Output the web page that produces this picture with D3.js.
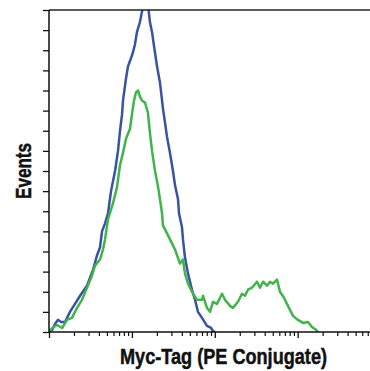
<!DOCTYPE html>
<html>
<head>
<meta charset="utf-8">
<script src="https://cdn.jsdelivr.net/npm/d3@7"></script>
<style>
  html, body { margin: 0; padding: 0; background: #fff; }
  svg { display: block; }
  .lbl { font-family: "Liberation Sans Narrow", "Arial Narrow", "Liberation Sans", Arial, sans-serif; font-weight: bold; font-size: 22px; fill: #111; stroke: #111; stroke-width: 0.5px; }
</style>
</head>
<body>
<div id="chart"></div>
<script>
// fluorescence (log axis) and event counts
const blueX = [1, 1.09, 1.18, 1.28, 1.40, 1.56, 1.79, 2.06, 2.37, 2.87, 3.40, 3.79, 4.12, 4.36, 4.74, 5.15, 5.60, 6.26, 6.80, 7.19, 7.60, 7.81, 8.49, 8.97, 9.75, 10.3, 10.9, 11.5, 12.5, 13.2, 14.0, 14.8,
  15.6, 16.5, 17.5, 18.5, 20.1, 21.8, 23.7, 25.1, 26.5, 28.8, 31.3, 33.1, 36.0, 37.0, 40.2, 41.3, 43.7, 47.5, 53.1, 57.7, 62.7, 70.1, 80.5, 90.0, 95.1, 100.6];
const blueY = [0, 1, 4, 6, 5, 5, 10, 14, 18, 23, 31, 38, 42, 50, 54, 59, 70, 80, 90, 100, 108, 115, 126, 132, 136, 139, 143, 149, 154, 159, 163, 166,
  163, 154, 149, 142, 132, 124, 111, 104, 97, 89, 80, 73, 66, 59, 52, 46, 37, 29, 21, 16, 10, 7, 3, 2, 0.5, 0];

const greenX = [1, 1.09, 1.25, 1.44, 1.65, 1.89, 2.18, 2.50, 2.87, 3.30, 3.59, 4.12, 4.48, 4.74, 5.15, 5.92, 6.61, 7.19, 7.81, 8.49, 9.49, 10.0, 10.6, 11.2, 11.9, 12.5, 13.2, 14.4, 15.6, 16.5, 17.5, 19.0, 20.7, 21.8, 23.1, 23.7, 25.8, 28.8,
  33.1, 38.0, 41.3, 43.7, 47.5, 54.6, 61.0, 70.1, 72.1, 80.5, 87.5, 95.1, 106.3, 122.2, 132.7, 152.5, 165.8, 190.5, 212.9, 231.3, 251.5, 281.0, 322.8, 351.0, 381.5, 426.3, 463.4, 503.5, 562.7,
  611.7, 683.5, 743.0, 807.5, 877.6, 1008, 1159, 1331, 1488, 1617, 1758];
const greenY = [0, 2, 3.5, 2, 6, 7, 12, 16, 22, 28, 33, 36, 41, 46, 56, 64, 72, 83, 89, 96, 101, 108, 115, 119, 120, 117, 115, 114, 109, 99, 90, 80, 72, 66, 59, 53, 50, 46,
  41, 34, 36, 29, 24, 19, 16, 16, 18, 12, 10, 15, 14, 19, 16, 13, 12, 15, 19, 18, 21, 22, 25, 22, 25, 23, 25, 24, 26,
  20, 17, 14, 11, 8, 6, 4.5, 5, 2.5, 1.5, 0];

const yTicks = d3.range(0, 161, 10);
const majorTicks = [1, 10, 100, 1000];

const width = 370, height = 371;
const mLeft = 49, mRight = 370, mTop = 10, mBottom = 332;

const svg = d3.select("#chart").append("svg")
  .attr("width", width)
  .attr("height", height);

const x = d3.scaleLog().domain([1, Math.pow(10, (mRight - mLeft) / 82.9)]).range([mLeft, mRight]);
const y = d3.scaleLinear().domain([0, 160]).range([mBottom, mTop]);

// minor ticks 2..9 in every decade that fits
const minorTicks = [];
majorTicks.forEach(m => { for (let k = 2; k <= 9; k++) if (m * k <= x.domain()[1]) minorTicks.push(m * k); });

svg.append("clipPath").attr("id", "plot")
  .append("rect").attr("x", mLeft).attr("y", mTop).attr("width", mRight - mLeft).attr("height", mBottom - mTop);

const line = d3.line()
  .x(d => x(d[0]))
  .y(d => y(d[1]));

const blue = blueX.map((v, i) => [v, blueY[i]]);
const green = greenX.map((v, i) => [v, greenY[i]]);

const g = svg.append("g").attr("clip-path", "url(#plot)");
g.append("path").datum(blue)
  .attr("d", line).attr("fill", "none")
  .attr("stroke", "#3953a4").attr("stroke-width", 2.5).attr("stroke-linejoin", "round");
g.append("path").datum(green)
  .attr("d", line).attr("fill", "none")
  .attr("stroke", "#3fb549").attr("stroke-width", 2.5).attr("stroke-linejoin", "round");

// top frame
svg.append("line")
  .attr("x1", mLeft).attr("x2", mRight).attr("y1", mTop).attr("y2", mTop)
  .attr("stroke", "#222").attr("stroke-width", 1.5);

// y axis
const yAxis = d3.axisLeft(y).tickValues(yTicks).tickSize(6).tickFormat("");
svg.append("g").attr("transform", `translate(${mLeft},0)`).call(yAxis)
  .call(s => s.select(".domain").attr("d", `M0,${mTop}V${mBottom}`).attr("stroke", "#111").attr("stroke-width", 1.5))
  .call(s => s.selectAll(".tick line").attr("stroke", "#111").attr("stroke-width", 1.3));

// x axis: minor + major ticks
svg.append("g").attr("transform", `translate(0,${mBottom})`)
  .call(d3.axisBottom(x).tickValues(minorTicks).tickSize(4).tickFormat(""))
  .call(s => s.select(".domain").remove())
  .call(s => s.selectAll(".tick line").attr("stroke", "#111").attr("stroke-width", 1.2));
svg.append("g").attr("transform", `translate(0,${mBottom})`)
  .call(d3.axisBottom(x).tickValues(majorTicks).tickSize(6).tickFormat(""))
  .call(s => s.select(".domain").attr("d", `M${mLeft},0H${mRight}`).attr("stroke", "#111").attr("stroke-width", 1.5))
  .call(s => s.selectAll(".tick line").attr("stroke", "#111").attr("stroke-width", 1.3));

svg.append("text").attr("class", "lbl")
  .attr("x", 223.5).attr("y", 364)
  .attr("text-anchor", "middle")
  .attr("textLength", 207).attr("lengthAdjust", "spacingAndGlyphs")
  .text("Myc-Tag (PE Conjugate)");

svg.append("text").attr("class", "lbl")
  .attr("transform", "translate(31,171) rotate(-90)")
  .attr("text-anchor", "middle")
  .attr("textLength", 56).attr("lengthAdjust", "spacingAndGlyphs")
  .text("Events");
</script>
</body>
</html>
